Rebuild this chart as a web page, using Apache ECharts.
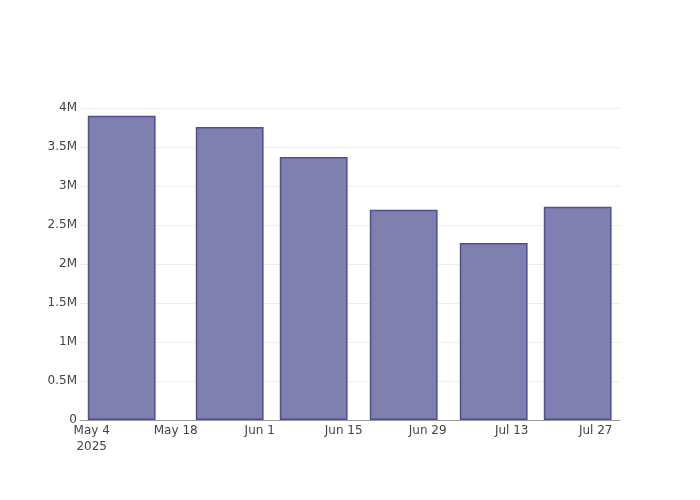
<!DOCTYPE html>
<html>
<head>
<meta charset="utf-8">
<script src="https://cdn.jsdelivr.net/npm/echarts@6/dist/echarts.min.js"></script>
<style>html,body{margin:0;padding:0;background:#fff}#c{width:700px;height:500px}</style>
</head>
<body>
<div id="c"></div>
<script>
const barDates = ['2025-05-09', '2025-05-27', '2025-06-10', '2025-06-25', '2025-07-10', '2025-07-24'];
const barValues = [3900000, 3755000, 3372000, 2697000, 2268000, 2735000];
const xTickDates = ['2025-05-04', '2025-05-18', '2025-06-01', '2025-06-15', '2025-06-29', '2025-07-13', '2025-07-27'];
const xTickLabels = ['May 4\n2025', 'May 18', 'Jun 1', 'Jun 15', 'Jun 29', 'Jul 13', 'Jul 27'];
const yTicks = [0, 500000, 1000000, 1500000, 2000000, 2500000, 3000000, 3500000, 4000000];
const yTickLabels = ['0', '0.5M', '1M', '1.5M', '2M', '2.5M', '3M', '3.5M', '4M'];

const DAY = 86400000;
const t = s => Date.parse(s + 'T00:00:00Z');
const xMin = t('2025-05-04') - 1.95 * DAY;
const xMax = xMin + 90 * DAY;
const plotW = 540;
const barW = 11.3 * DAY / (xMax - xMin) * plotW;
const xTickVals = xTickDates.map(t);
const FONT = 'DejaVu Sans';

const chart = echarts.init(document.getElementById('c'), null, {renderer: 'canvas'});
chart.setOption({
  animation: false,
  textStyle: {fontFamily: FONT, color: '#444'},
  grid: {left: 80, right: 80, top: 108, bottom: 80, containLabel: false},
  xAxis: {
    type: 'value',
    min: xMin,
    max: xMax,
    axisLine: {show: true, onZero: false, lineStyle: {color: '#999', width: 1}},
    axisTick: {show: false, customValues: xTickVals},
    splitLine: {show: false},
    axisLabel: {
      customValues: xTickVals,
      formatter: v => {
        const i = xTickVals.indexOf(v);
        return i >= 0 ? xTickLabels[i] : '';
      },
      color: '#444', fontSize: 12, fontFamily: FONT, lineHeight: 16, margin: 3,
      showMinLabel: true, showMaxLabel: true, hideOverlap: false
    }
  },
  yAxis: {
    type: 'value',
    min: 0,
    max: 4000000,
    interval: 500000,
    axisLine: {show: false},
    axisTick: {show: false},
    splitLine: {show: true, lineStyle: {color: '#eeeeee', width: 1}},
    axisLabel: {
      formatter: v => { const i = yTicks.indexOf(v); return i >= 0 ? yTickLabels[i] : ''; },
      color: '#444', fontSize: 12, fontFamily: FONT, margin: 3
    }
  },
  series: [{
    type: 'bar',
    data: barDates.map((d, i) => [t(d), barValues[i]]),
    barWidth: barW,
    itemStyle: {color: '#7f7fb0', borderColor: '#4f4f8f', borderWidth: 1.5}
  }]
});
</script>
</body>
</html>
